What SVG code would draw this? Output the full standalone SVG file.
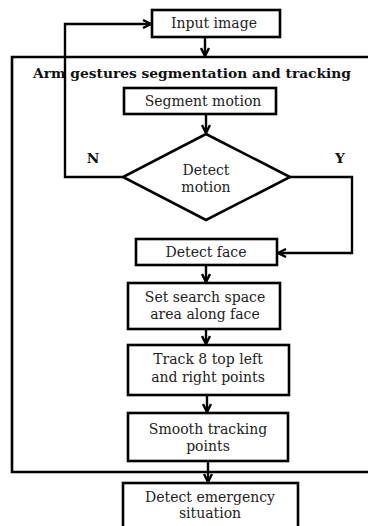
<svg xmlns="http://www.w3.org/2000/svg" width="368" height="526" viewBox="0 0 368 526">
<style>
.box{fill:#fff;stroke:#000;stroke-width:2.6}
.t{font-family:"DejaVu Serif","Liberation Serif",serif;font-size:14px;fill:#222;text-anchor:middle}
.b{font-family:"DejaVu Serif","Liberation Serif",serif;font-size:13.8px;font-weight:bold;fill:#111;text-anchor:middle}
.c{fill:none;stroke:#000;stroke-width:2.4}
</style>
<defs>
<marker id="ah" viewBox="0 0 10 10" refX="9" refY="5" markerWidth="10" markerHeight="10" markerUnits="userSpaceOnUse" orient="auto">
<polyline points="1,1 9,5 1,9" fill="none" stroke="#000" stroke-width="2.4"/>
</marker>
</defs>
<rect width="368" height="526" fill="#fff"/>
<g id="container">
<path d="M372,57 H12 V472 H372" fill="none" stroke="#000" stroke-width="2.6"/>
<text class="b" x="192" y="78">Arm gestures segmentation and tracking</text>
</g>
<g id="connectors">
<line class="c" x1="205" y1="37" x2="205" y2="56" marker-end="url(#ah)"/>
<line class="c" x1="206" y1="114" x2="206" y2="133" marker-end="url(#ah)"/>
<polyline class="c" points="123,177 65,177 65,24 151,24" marker-end="url(#ah)"/>
<polyline class="c" points="290,177 352,177 352,253 278,253" marker-end="url(#ah)"/>
<line class="c" x1="206" y1="265" x2="206" y2="282" marker-end="url(#ah)"/>
<line class="c" x1="206" y1="329" x2="206" y2="344" marker-end="url(#ah)"/>
<line class="c" x1="207" y1="395" x2="207" y2="412" marker-end="url(#ah)"/>
<line class="c" x1="208" y1="461" x2="208" y2="482" marker-end="url(#ah)"/>
<text class="b" x="93" y="163">N</text>
<text class="b" x="340" y="163">Y</text>
</g>
<g id="input">
<rect class="box" x="152" y="10" width="128" height="27"/>
<text class="t" x="214" y="28">Input image</text>
</g>
<g id="segment">
<rect class="box" x="124" y="88" width="152" height="26"/>
<text class="t" x="203" y="106">Segment motion</text>
</g>
<g id="detect-motion">
<polygon class="box" points="206,134 290,177 206,220 123,177"/>
<text class="t" x="206" y="175">Detect</text>
<text class="t" x="206" y="192">motion</text>
</g>
<g id="detect-face">
<rect class="box" x="136" y="239" width="141" height="26"/>
<text class="t" x="206" y="257">Detect face</text>
</g>
<g id="search">
<rect class="box" x="128" y="283" width="152" height="46"/>
<text class="t" x="205" y="302">Set search space</text>
<text class="t" x="205" y="319">area along face</text>
</g>
<g id="track">
<rect class="box" x="128" y="345" width="161" height="50"/>
<text class="t" x="208" y="364">Track 8 top left</text>
<text class="t" x="208" y="382">and right points</text>
</g>
<g id="smooth">
<rect class="box" x="128" y="413" width="160" height="48"/>
<text class="t" x="208" y="434">Smooth tracking</text>
<text class="t" x="208" y="451">points</text>
</g>
<g id="emergency">
<rect class="box" x="123" y="483" width="175" height="50"/>
<text class="t" x="210" y="502">Detect emergency</text>
<text class="t" x="210" y="518">situation</text>
</g>
</svg>
